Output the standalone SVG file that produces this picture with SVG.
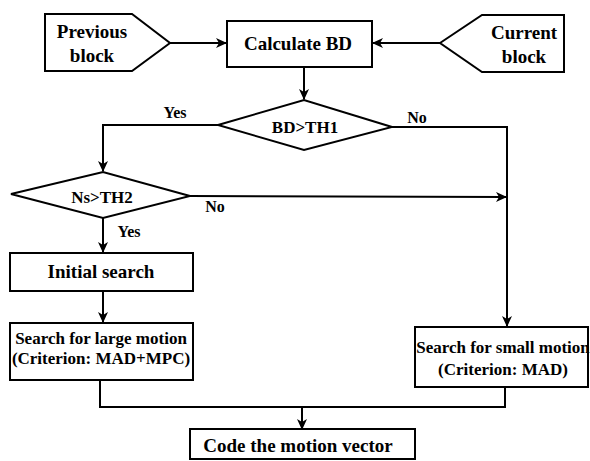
<svg xmlns="http://www.w3.org/2000/svg" width="590" height="461" viewBox="0 0 590 461">
<style>
.s{fill:#fff;stroke:#000;stroke-width:2}
.c{fill:none;stroke:#000;stroke-width:2}
text{font-weight:bold;fill:#000;text-anchor:middle}
.t{font-size:19px}
.m{font-size:17px}
.l{font-size:16px}
</style>
<defs>
<marker id="a" markerWidth="12" markerHeight="10" refX="10" refY="5" orient="auto" markerUnits="userSpaceOnUse">
<path d="M0,0 L11,5 L0,10 L3,5 Z" fill="#000"/>
</marker>
</defs>
<g font-family="Liberation Serif, Times New Roman, DejaVu Serif, serif">
<g id="connectors">
<line class="c" x1="170" y1="43" x2="226" y2="43" marker-end="url(#a)"/>
<line class="c" x1="440" y1="43" x2="373" y2="43" marker-end="url(#a)"/>
<line class="c" x1="304" y1="67" x2="304" y2="99" marker-end="url(#a)"/>
<polyline class="c" points="218,125 103,125 103,171" marker-end="url(#a)"/>
<polyline class="c" points="392,127 507,127 507,326" marker-end="url(#a)"/>
<line class="c" x1="190" y1="196" x2="506" y2="197" marker-end="url(#a)"/>
<line class="c" x1="103" y1="218" x2="103" y2="252" marker-end="url(#a)"/>
<line class="c" x1="103" y1="291" x2="103" y2="322" marker-end="url(#a)"/>
<polyline class="c" points="100,380 100,407 505,407 505,387"/>
<line class="c" x1="302" y1="407" x2="302" y2="429" marker-end="url(#a)"/>
<text class="l" x="175" y="118">Yes</text>
<text class="l" x="417" y="123">No</text>
<text class="l" x="215" y="212">No</text>
<text class="l" x="129" y="237">Yes</text>
</g>
<g id="previous">
<polygon class="s" points="45,14 132,14 170,43 132,71 45,71"/>
<text class="t" x="92" y="38">Previous</text>
<text class="t" x="92" y="62">block</text>
</g>
<g id="current">
<polygon class="s" points="440,43 482,15 564,15 564,72 482,72"/>
<text class="t" x="524" y="39">Current</text>
<text class="t" x="524" y="63">block</text>
</g>
<g id="calc">
<rect class="s" x="227" y="21" width="145" height="46"/>
<text class="t" x="298" y="50">Calculate BD</text>
</g>
<g id="bd">
<polygon class="s" points="218,125 304,100 392,127 304,150"/>
<text class="m" x="305" y="133">BD&gt;TH1</text>
</g>
<g id="ns">
<polygon class="s" points="11,194 103,172 190,196 103,218"/>
<text class="m" x="102" y="203">Ns&gt;TH2</text>
</g>
<g id="initial">
<rect class="s" x="10" y="253" width="183" height="38"/>
<text class="t" x="101" y="278">Initial search</text>
</g>
<g id="large">
<rect class="s" x="10" y="323" width="183" height="57"/>
<text class="m" x="101" y="344">Search for large motion</text>
<text class="m" x="101" y="364">(Criterion: MAD+MPC)</text>
</g>
<g id="small">
<rect class="s" x="415" y="327" width="173" height="60"/>
<text class="m" x="503" y="353">Search for small motion</text>
<text class="m" x="503" y="375">(Criterion: MAD)</text>
</g>
<g id="code">
<rect class="s" x="190" y="429" width="225" height="30"/>
<text class="t" x="298" y="452">Code the motion vector</text>
</g>
</g>
</svg>
